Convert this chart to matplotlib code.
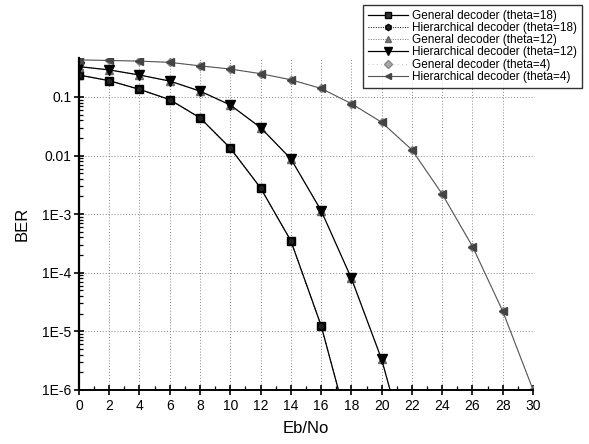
import matplotlib
matplotlib.use("Agg")
import matplotlib.pyplot as plt
from matplotlib.ticker import LogLocator, FixedLocator, MultipleLocator, FuncFormatter

plt.rcParams['font.family'] = ['Liberation Sans', 'DejaVu Sans']

# Data (Eb/No in dB, BER)
x18 = [0, 2, 4, 6, 8, 10, 12, 14, 16, 18]
gen18 = [0.237, 0.19, 0.135, 0.09, 0.044, 0.0134, 0.0028, 3.5e-4, 1.25e-5, 1.5e-7]
hier18 = [0.237, 0.19, 0.135, 0.09, 0.044, 0.0134, 0.0028, 3.5e-4, 1.25e-5, 1.5e-7]

x12 = [0, 2, 4, 6, 8, 10, 12, 14, 16, 18, 20, 22]
gen12 = [0.33, 0.29, 0.237, 0.187, 0.126, 0.073, 0.030, 0.0088, 1.15e-3, 8.0e-5, 3.3e-6, 4.4e-8]
hier12 = [0.33, 0.29, 0.237, 0.187, 0.126, 0.073, 0.030, 0.0088, 1.15e-3, 8.0e-5, 3.3e-6, 4.4e-8]

x4 = [0, 2, 4, 6, 8, 10, 12, 14, 16, 18, 20, 22, 24, 26, 28, 30]
gen4 = [0.43, 0.42, 0.41, 0.39, 0.34, 0.30, 0.25, 0.197, 0.14, 0.077, 0.037, 0.0125,
        2.2e-3, 2.8e-4, 2.2e-5, 1.0e-6]
hier4 = [0.43, 0.42, 0.41, 0.39, 0.34, 0.30, 0.25, 0.197, 0.14, 0.077, 0.037, 0.0125,
         2.2e-3, 2.8e-4, 2.2e-5, 1.0e-6]

labels = ["General decoder (theta=18)", "Hierarchical decoder (theta=18)",
          "General decoder (theta=12)", "Hierarchical decoder (theta=12)",
          "General decoder (theta=4)", "Hierarchical decoder (theta=4)"]
x_ticks = list(range(0, 31, 2))
y_ticks = [1e-6, 1e-5, 1e-4, 1e-3, 1e-2, 1e-1]
y_tick_labels = ["1E-6", "1E-5", "1E-4", "1E-3", "0.01", "0.1"]

fig = plt.figure(figsize=(5.89, 4.44), dpi=100)
ax = fig.add_axes([0.134, 0.122, 0.771, 0.747])

ms = 5.5
ax.plot(x18, gen18, color='black', lw=0.9, ls='-', marker='s', ms=ms, mfc='#333333', mec='black', label=labels[0])
ax.plot(x18, hier18, color='black', lw=0.7, ls=(0, (1, 1.5)), marker='h', ms=ms, mfc='#222222', mec='black', label=labels[1])
ax.plot(x12, gen12, color='#777777', lw=0.7, ls=(0, (1, 1.5)), marker='^', ms=ms, mfc='#777777', mec='#666666', label=labels[2])
ax.plot(x12, hier12, color='black', lw=0.9, ls='-', marker='v', ms=ms + 1, mfc='black', mec='black', label=labels[3])
ax.plot(x4, gen4, color='#aaaaaa', lw=0.6, ls=(0, (1, 4)), marker='D', ms=ms - 1, mfc='#aaaaaa', mec='#888888', label=labels[4])
ax.plot(x4, hier4, color='#555555', lw=0.8, ls='-', marker='<', ms=ms, mfc='#444444', mec='#444444', label=labels[5])

ax.set_yscale('log')
ax.set_xlim(0, 30)
ax.set_ylim(1e-6, 0.46)

ax.xaxis.set_major_locator(FixedLocator(x_ticks))
ax.xaxis.set_minor_locator(MultipleLocator(1))
ax.yaxis.set_major_locator(FixedLocator(y_ticks))
ax.set_yticklabels(y_tick_labels)
ax.yaxis.set_minor_locator(LogLocator(base=10, subs=[2, 3, 4, 5, 6, 7, 8, 9], numticks=20))
ax.yaxis.set_minor_formatter(FuncFormatter(lambda v, p: ""))

ax.grid(True, which='major', color='#888888', ls=(0, (1, 2)), lw=0.7)
ax.spines['top'].set_visible(False)
ax.spines['right'].set_visible(False)
ax.spines['left'].set_linewidth(1.6)
ax.spines['bottom'].set_linewidth(1.4)

ax.tick_params(axis='both', which='major', direction='inout', length=7, width=1.2, labelsize=10, colors='black')
ax.tick_params(axis='both', which='minor', direction='in', length=3, width=0.9)
ax.tick_params(axis='x', pad=3)
ax.tick_params(axis='y', pad=2)

ax.set_xlabel("Eb/No", fontsize=12, labelpad=6)
ax.set_ylabel("BER", fontsize=12, labelpad=9)

leg = ax.legend(loc='upper right', bbox_to_anchor=(582 / 589, 1 - 5 / 444),
                bbox_transform=fig.transFigure, fontsize=8.5, markerscale=0.8,
                frameon=True, fancybox=False, edgecolor='black', handlelength=3.4,
                handletextpad=0.35, borderpad=0.4, labelspacing=0.02, borderaxespad=0)
leg.get_frame().set_linewidth(1.0)

fig.savefig("out.png", dpi=100)
